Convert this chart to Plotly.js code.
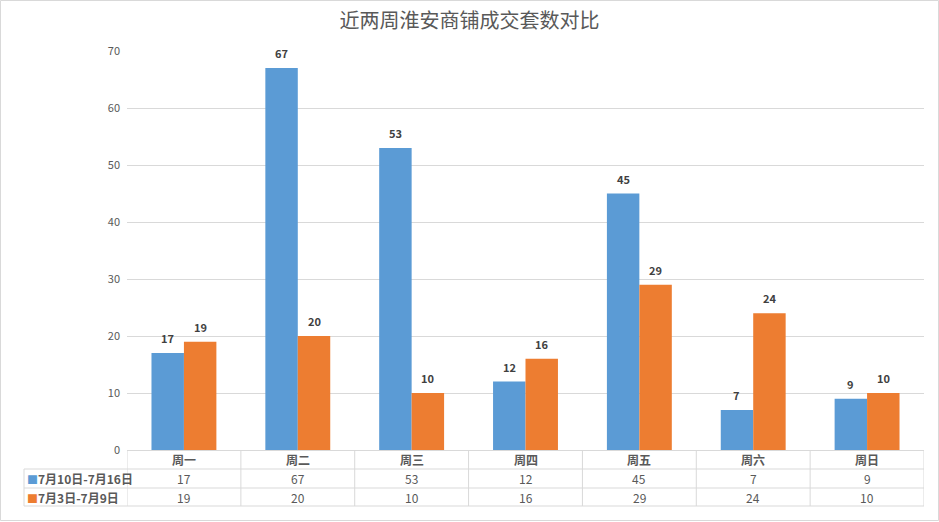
<!DOCTYPE html>
<html>
<head>
<meta charset="utf-8">
<script src="https://cdn.plot.ly/plotly-3.0.1.min.js"></script>
<style>
  html, body { margin: 0; padding: 0; background: #fff; }
  #chart { width: 939px; height: 522px; }
</style>
</head>
<body>
<div id="chart"></div>
<script>
var days = ['周一', '周二', '周三', '周四', '周五', '周六', '周日'];
var seriesNames = ['7月10日-7月16日', '7月3日-7月9日'];
var thisWeek = [17, 67, 53, 12, 45, 7, 9];
var lastWeek = [19, 20, 10, 16, 29, 24, 10];
var colors = ['#5B9BD5', '#ED7D31'];

var font = "'Noto Sans CJK SC', 'Microsoft YaHei', sans-serif";
var values = [thisWeek, lastWeek];
var bargap = 0.43;
var barW = (1 - bargap) / values.length;

var traces = values.map(function(vals, i) {
    return {
        type: 'bar',
        name: seriesNames[i],
        x: days.map(function(d, k) { return k; }),
        y: vals,
        marker: { color: colors[i] },
        hoverinfo: 'skip'
    };
});

// table rows in paper coords (plot height 399px)
var ph = 399;
var rowY = [0, -19 / ph, -38 / ph, -56 / ph];
var leftX = -103 / 797;

var shapes = [];
var annotations = [];
var line = { color: '#d9d9d9', width: 1 };

// horizontal lines of the table
for (var r = 1; r < rowY.length; r++) {
    shapes.push({ type: 'line', xref: 'paper', yref: 'paper', x0: leftX, x1: 1, y0: rowY[r], y1: rowY[r], line: line });
}
// vertical separators
for (var k = 0; k <= days.length; k++) {
    shapes.push({ type: 'line', xref: 'x', yref: 'paper', x0: k - 0.5, x1: k - 0.5, y0: 0, y1: rowY[3], line: line });
}
shapes.push({ type: 'line', xref: 'paper', yref: 'paper', x0: leftX, x1: leftX, y0: rowY[1], y1: rowY[3], line: line });
// outer frame of the chart
shapes.push({ type: 'rect', xref: 'paper', yref: 'paper', x0: -126.5 / 797, x1: 811.5 / 797, y0: -70.5 / ph, y1: 1 + 50.5 / ph, line: line });

days.forEach(function(d, k) {
    annotations.push({ xref: 'x', yref: 'paper', x: k, y: (rowY[0] + rowY[1]) / 2, yanchor: 'middle', text: '<b>' + d + '</b>', showarrow: false, font: { family: font, size: 12, color: '#595959' } });
    values.forEach(function(vals, i) {
        annotations.push({ xref: 'x', yref: 'paper', x: k, y: (rowY[i + 1] + rowY[i + 2]) / 2, yanchor: 'middle', text: String(vals[k]), showarrow: false, font: { family: font, size: 12, color: '#595959' } });
        // data label above the bar
        annotations.push({ xref: 'x', yref: 'y', x: k + (i - (values.length - 1) / 2) * barW, y: vals[k], yanchor: 'bottom', yshift: 5, text: '<b>' + vals[k] + '</b>', showarrow: false, font: { family: font, size: 11, color: '#404040' } });
    });
});
seriesNames.forEach(function(n, i) {
    annotations.push({ xref: 'paper', yref: 'paper', x: leftX + 1 / 797, xanchor: 'left', y: (rowY[i + 1] + rowY[i + 2]) / 2, yanchor: 'middle', text: '<span style="color:' + colors[i] + ';font-size:11px">■</span><b>' + n + '</b>', showarrow: false, font: { family: font, size: 12, color: '#595959' } });
});

var layout = {
    width: 939,
    height: 522,
    margin: { l: 127, r: 15, t: 51, b: 72 },
    paper_bgcolor: '#fff',
    plot_bgcolor: '#fff',
    showlegend: false,
    barmode: 'group',
    bargap: bargap,
    bargroupgap: 0,
    title: { text: '近两周淮安商铺成交套数对比', x: 0.5, xref: 'container', y: 0.96, yanchor: 'middle', font: { family: font, size: 20, color: '#595959' } },
    xaxis: {
        range: [-0.5, days.length - 0.5],
        showticklabels: false,
        showgrid: false,
        zeroline: false,
        showline: true,
        linecolor: '#d9d9d9',
        ticks: '',
        fixedrange: true
    },
    yaxis: {
        range: [0, 70],
        dtick: 10,
        showgrid: true,
        gridcolor: '#d9d9d9',
        zeroline: false,
        showline: false,
        ticks: '',
        ticklabelstandoff: 6,
        tickfont: { family: font, size: 11, color: '#595959' },
        fixedrange: true
    },
    shapes: shapes,
    annotations: annotations,
    font: { family: font }
};

Plotly.newPlot('chart', traces, layout, { displayModeBar: false, staticPlot: true });
</script>
</body>
</html>
